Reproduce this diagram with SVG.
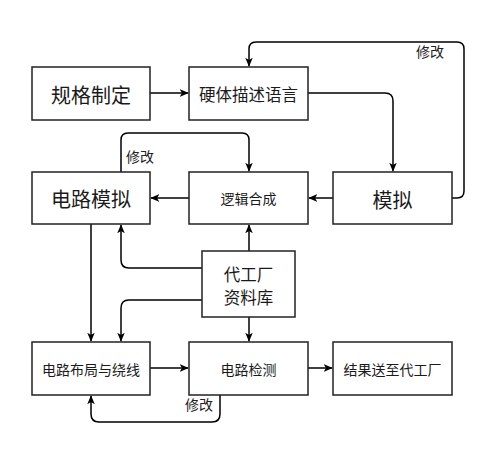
<svg xmlns="http://www.w3.org/2000/svg" width="500" height="458" viewBox="0 0 500 458">
<style>
.box{fill:#fff;stroke:#222;stroke-width:1.5}
.t{font-family:"Noto Sans CJK SC","Noto Sans",sans-serif;fill:#1a1a1a;text-anchor:middle;dominant-baseline:central}
.c{fill:none;stroke:#000;stroke-width:1.5;marker-end:url(#ah)}
.l{font-family:"Noto Sans CJK SC","Noto Sans",sans-serif;fill:#222;font-size:14px}
</style>
<defs>
<marker id="ah" viewBox="0 0 12 10" refX="11" refY="5" markerWidth="9" markerHeight="8" markerUnits="userSpaceOnUse" orient="auto">
<path d="M0,0 L12,5 L0,10 L3,5 Z" fill="#000"/>
</marker>
</defs>
<rect width="500" height="458" fill="#fff"/>
<g id="connectors">
<path class="c" d="M150,93 H188"/>
<path class="c" d="M308,93 H385 Q393,93 393,101 V171"/>
<path class="c" d="M452,198 H457 Q464,198 464,191 V49 Q464,42 457,42 H256 Q249,42 249,49 V66"/>
<path class="c" d="M333,198 H309"/>
<path class="c" d="M189,198 H151"/>
<path class="c" d="M121,172 V140 Q121,133 128,133 H242 Q249,133 249,140 V171"/>
<path class="c" d="M249,251 V225"/>
<path class="c" d="M202,268 H129 Q121,268 121,260 V225"/>
<path class="c" d="M202,300 H129 Q121,300 121,308 V341"/>
<path class="c" d="M91,224 V341"/>
<path class="c" d="M249,317 V341"/>
<path class="c" d="M150,368 H188"/>
<path class="c" d="M308,368 H332"/>
<path class="c" d="M220,395 V414 Q220,422 212,422 H99 Q91,422 91,414 V396"/>
<text class="l" x="430" y="57" text-anchor="middle">修改</text>
<text class="l" x="140" y="162" text-anchor="middle">修改</text>
<text class="l" x="199" y="410" text-anchor="middle">修改</text>
</g>
<g id="n1"><rect class="box" x="32" y="67" width="118" height="53"/><text class="t" x="91" y="94" font-size="20">规格制定</text></g>
<g id="n2"><rect class="box" x="189" y="67" width="119" height="53"/><text class="t" x="248.5" y="94" font-size="16.5">硬体描述语言</text></g>
<g id="n3"><rect class="box" x="32" y="172" width="118" height="52"/><text class="t" x="91" y="198" font-size="20">电路模拟</text></g>
<g id="n4"><rect class="box" x="189" y="172" width="119" height="52"/><text class="t" x="248.5" y="198" font-size="14">逻辑合成</text></g>
<g id="n5"><rect class="box" x="333" y="172" width="119" height="52"/><text class="t" x="392.5" y="199" font-size="20">模拟</text></g>
<g id="n6"><rect class="box" x="202" y="251" width="93" height="66"/><text class="t" x="248.5" y="274" font-size="16.5">代工厂</text><text class="t" x="248.5" y="297" font-size="16.5">资料库</text></g>
<g id="n7"><rect class="box" x="32" y="342" width="118" height="53"/><text class="t" x="91" y="369" font-size="14">电路布局与绕线</text></g>
<g id="n8"><rect class="box" x="189" y="342" width="119" height="53"/><text class="t" x="248.5" y="369" font-size="14">电路检测</text></g>
<g id="n9"><rect class="box" x="333" y="342" width="119" height="53"/><text class="t" x="392.5" y="369" font-size="14">结果送至代工厂</text></g>
</svg>
